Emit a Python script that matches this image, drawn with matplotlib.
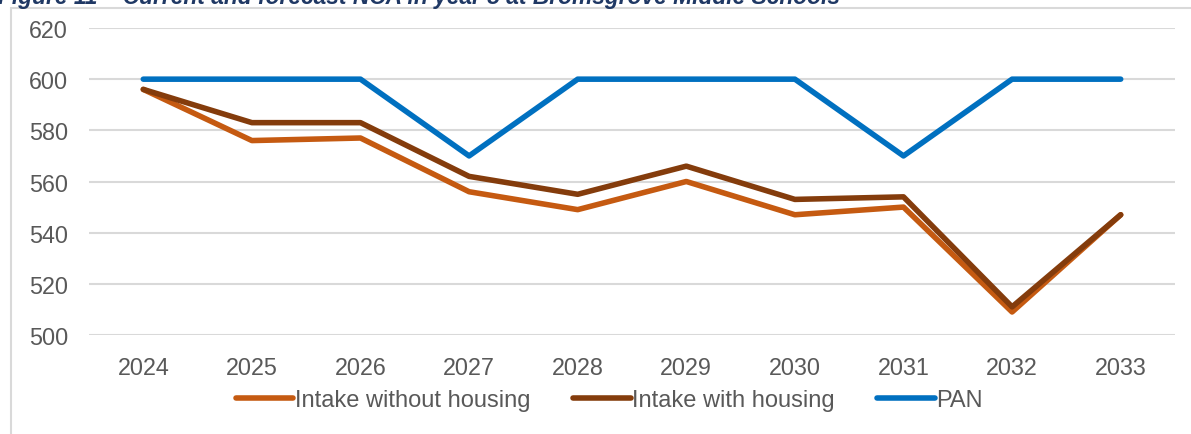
import matplotlib.pyplot as plt
from matplotlib.patches import Rectangle

years = ["2024", "2025", "2026", "2027", "2028", "2029", "2030", "2031", "2032", "2033"]
intake_without = [596, 576, 577, 556, 549, 560, 547, 550, 509, 547]
intake_with = [596, 583, 583, 562, 555, 566, 553, 554, 511, 547]
pan = [600, 600, 600, 570, 600, 600, 600, 570, 600, 600]

plt.rcParams['font.family'] = ['Liberation Sans', 'DejaVu Sans']

W, H = 1191, 435
fig = plt.figure(figsize=(W / 100, H / 100), dpi=100)
ax = fig.add_axes([89 / W, 1 - 336 / H, (1175 - 89) / W, (336 - 29) / H])

x = list(range(len(years)))
lw = 4.0
ax.plot(x, intake_without, color='#C55A11', lw=lw, solid_capstyle='round',
        label='Intake without housing', zorder=3)
ax.plot(x, intake_with, color='#843C0C', lw=lw, solid_capstyle='round',
        label='Intake with housing', zorder=4)
ax.plot(x, pan, color='#0070C0', lw=lw, solid_capstyle='round',
        label='PAN', zorder=5)

ax.set_xlim(-0.5, len(years) - 0.5)
ax.set_ylim(500, 620)
ax.set_yticks(range(500, 621, 20))
ax.set_xticks(x)
ax.set_xticklabels(years)
ax.grid(axis='y', color='#D9D9D9', lw=1.5)
ax.set_axisbelow(True)
for s in ax.spines.values():
    s.set_visible(False)
ax.tick_params(axis='both', length=0, labelsize=16.8, colors='#595959')
ax.tick_params(axis='x', pad=15)
ax.tick_params(axis='y', pad=15)

leg = fig.legend(loc='center', bbox_to_anchor=(609 / W, 1 - 401 / H), ncol=3,
                 frameon=False, fontsize=17, handlelength=2.45,
                 handletextpad=0.05, columnspacing=1.8)
for t in leg.get_texts():
    t.set_color('#595959')

# chart border (partly outside the crop)
fig.patches.append(Rectangle((11 / W, -0.2), 1.2, 1.2 - 9 / H,
                             transform=fig.transFigure, fill=False,
                             ec='#D9D9D9', lw=1.5))

fig.text(-0.002, 1 - 4 / H,
         "Figure 11 \u2013 Current and forecast NCA in year 5 at Bromsgrove Middle Schools",
         va='baseline', ha='left', fontsize=16.4, style='italic', weight='bold',
         color='#1F3864')

fig.savefig("out.png", dpi=100)
